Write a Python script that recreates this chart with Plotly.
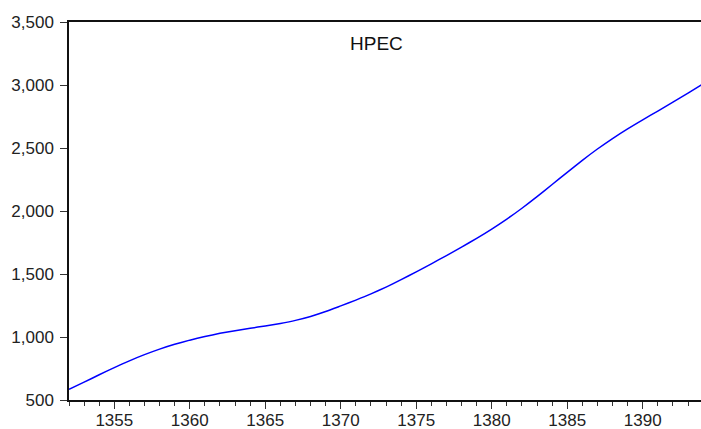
import plotly.graph_objects as go

years = list(range(1352, 1395))
hpec = [585, 642, 700, 757, 811, 860, 904, 942, 975, 1004,
        1029, 1050, 1069, 1088, 1108, 1132, 1163, 1202, 1247, 1293,
        1342, 1396, 1455, 1517, 1581, 1646, 1713, 1783, 1857, 1936,
        2022, 2114, 2210, 2307, 2402, 2492, 2575, 2652, 2724, 2793,
        2864, 2936, 3010]
series_name = "HPEC"
y_ticks = [500, 1000, 1500, 2000, 2500, 3000, 3500]
x_ticks = [1355, 1360, 1365, 1370, 1375, 1380, 1385, 1390]

font_family = "Arial, Liberation Sans, sans-serif"

W, H = 701, 429
ML, MR, MT, MB = 69, 0, 22, 29

fig = go.Figure()
fig.add_trace(go.Scatter(
    x=years, y=hpec, mode="lines",
    line=dict(color="#0000FF", width=1.5, shape="spline", smoothing=0.5),
    showlegend=False, hoverinfo="skip",
))

fig.update_layout(
    width=W, height=H,
    margin=dict(l=ML, r=MR, t=MT, b=MB, autoexpand=False),
    paper_bgcolor="white", plot_bgcolor="white",
    font=dict(family=font_family, size=17, color="#222222"),
    showlegend=False,
    annotations=[dict(
        text=series_name,
        x=(376.7 - ML) / (W - ML - MR), xref="paper",
        y=1 - (44 - MT) / (H - MT - MB), yref="paper",
        xanchor="center", yanchor="middle", showarrow=False,
        font=dict(family=font_family, size=19, color="#111111"),
    )],
)

fig.update_xaxes(
    range=[1352, 1393.86], automargin=False,
    tickmode="array", tickvals=x_ticks, ticktext=[str(v) for v in x_ticks],
    ticks="outside", ticklen=7, tickwidth=1, tickcolor="#333333",
    showline=True, linecolor="#111111", linewidth=1.5, mirror=True,
    showgrid=False, zeroline=False,
    ticklabelstandoff=-3,
    minor=dict(tick0=1352, dtick=1, ticks="outside", ticklen=4, tickwidth=1, tickcolor="#333333", showgrid=False),
)
fig.update_yaxes(
    range=[500, 3500], automargin=False,
    tickmode="array", tickvals=y_ticks, ticktext=[f"{v:,}" for v in y_ticks],
    ticks="outside", ticklen=7, tickwidth=1, tickcolor="#333333",
    showline=True, linecolor="#111111", linewidth=1.5,
    showgrid=False, zeroline=False,
    ticklabelstandoff=3,
)

fig.write_html(
    "out.html",
    config={"displayModeBar": False},
    post_script="document.body.style.margin='0';document.body.style.overflow='hidden';",
)
